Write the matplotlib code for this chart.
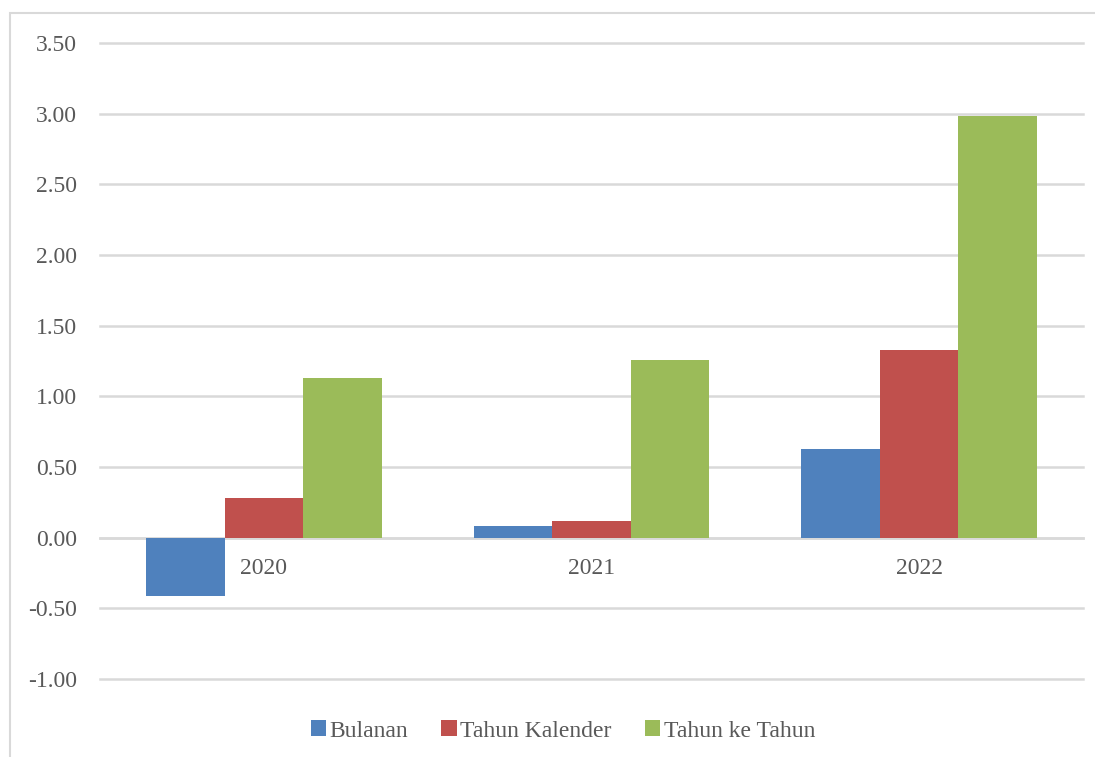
import matplotlib
matplotlib.use("Agg")
import matplotlib.pyplot as plt
from matplotlib.patches import Rectangle
import numpy as np

years = ["2020", "2021", "2022"]
series_names = ["Bulanan", "Tahun Kalender", "Tahun ke Tahun"]
bulanan = [-0.41, 0.08, 0.63]
tahun_kalender = [0.28, 0.12, 1.33]
tahun_ke_tahun = [1.13, 1.26, 2.98]
colors = ["#4F81BD", "#C0504D", "#9BBB59"]
yticks = [-1.0, -0.5, 0.0, 0.5, 1.0, 1.5, 2.0, 2.5, 3.0, 3.5]

plt.rcParams['font.family'] = ['Liberation Serif', 'DejaVu Serif']

fig = plt.figure(figsize=(10.95, 7.57), dpi=100)
ax = fig.add_axes([100/1095, 1-679/757, (1083-100)/1095, (679-43)/757])

# outer chart border
fig.patches.append(Rectangle((10/1095, -0.01), 1.2, 1-13/757+0.01, transform=fig.transFigure,
                             fill=False, edgecolor="#D9D9D9", linewidth=1.5))

x = np.arange(len(years))
w = 0.24
for i, (vals, name) in enumerate(zip([bulanan, tahun_kalender, tahun_ke_tahun], series_names)):
    ax.bar(x + (i - 1) * w, vals, width=w, color=colors[i], label=name, zorder=3)

ax.set_xlim(-0.5, 2.5)
ax.set_ylim(-1.0, 3.5)
ax.set_yticks(yticks)
ax.set_yticklabels([f"{v:.2f}" for v in yticks])
ax.yaxis.grid(True, color="#D9D9D9", linewidth=1.8, zorder=0)
for gl in ax.get_ygridlines():
    gl.set_clip_on(False)
ax.set_axisbelow(True)
for s in ["top", "right", "left"]:
    ax.spines[s].set_visible(False)
ax.spines["bottom"].set_position(("data", 0))
ax.spines["bottom"].set_color("#D9D9D9")
ax.spines["bottom"].set_linewidth(1.8)
ax.spines["bottom"].set_zorder(1)
ax.set_xticks(x)
ax.set_xticklabels(years)
ax.tick_params(axis="x", length=0, pad=15, labelsize=17, labelcolor="#595959")
ax.tick_params(axis="y", length=0, pad=16.5, labelsize=17, labelcolor="#595959")

fig.legend(loc="center", bbox_to_anchor=(563/1095, 1-731/757), ncol=3, frameon=False,
           fontsize=17, labelcolor="#595959", handlelength=0.65, handleheight=0.65,
           handletextpad=0.15, columnspacing=1.4)

fig.savefig("out.png", dpi=100)
